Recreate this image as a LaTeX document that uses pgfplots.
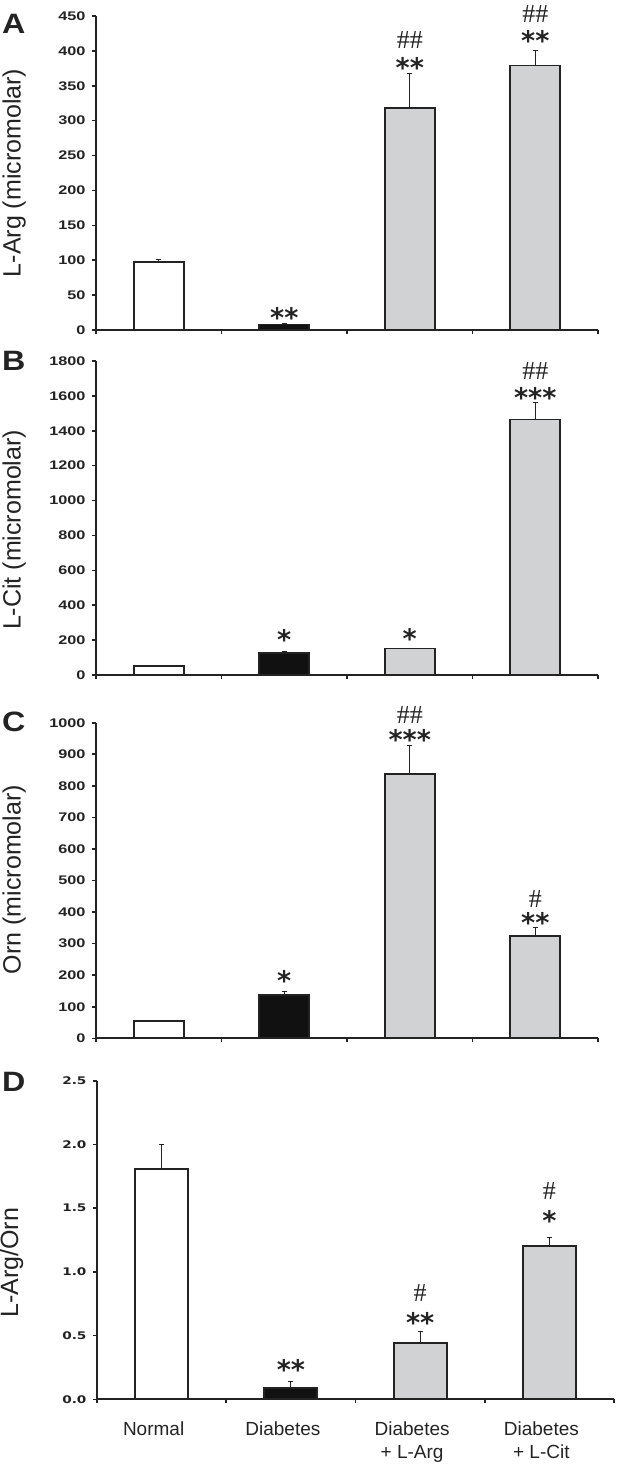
\documentclass[border=0pt]{standalone}
\usepackage{fontspec}
\setmainfont{Liberation Sans}
\newfontfamily\tickfont{Liberation Sans Bold}[FakeStretch=1.3]
\newfontfamily\dtickfont{DejaVu Sans Bold}[FakeStretch=1.3]
\newfontfamily\astfont{DejaVu Sans Bold}
\newfontfamily\hashfont{Liberation Serif}
\newfontfamily\letterfont{Liberation Sans Bold}[FakeStretch=1.15]
\usepackage{pgfplots}
\pgfplotsset{compat=1.18}
\definecolor{barg}{RGB}{208,210,212}
\definecolor{ink}{RGB}{35,35,35}
\definecolor{barblack}{RGB}{17,17,17}

\newcommand\stars[3]{\node[font=\astfont\fontsize{27bp}{30bp}\selectfont, text=ink, anchor=base, yshift=-15.8bp, inner sep=0pt] at (axis cs:#1,#2) {#3};}
\newcommand\hashes[3]{\node[font=\hashfont\fontsize{26bp}{28bp}\selectfont, text=ink, anchor=base, yshift=-8.8bp, inner sep=0pt] at (axis cs:#1,#2) {#3};}

\pgfplotsset{
  panel/.style={
    scale only axis, width=502bp, height=314bp,
    xmin=0.5, xmax=4.5, ymin=0, enlargelimits=false,
    axis x line*=bottom, axis y line*=left,
    axis line style={ink, line width=1.8bp},
    xtick={0.5,1.5,2.5,3.5,4.5}, xticklabels={},
    tick align=outside, major tick length=4bp,
    tick style={ink, line width=1.6bp},
    clip=false,
    /pgf/number format/assume math mode=true,
    /pgf/number format/1000 sep={},
    yticklabel style={font=\tickfont\fontsize{12.5bp}{14bp}\selectfont, text=ink, xshift=-3bp},
    ylabel style={font=\fontsize{25bp}{28bp}\selectfont, text=ink, anchor=center},
  },
  mybar/.style={
    ybar, bar shift=0pt, bar width=0.4, draw=ink, line width=1.8bp,
    error bars/y dir=plus, error bars/y explicit,
    error bars/error bar style={line width=0.9bp, ink},
    error bars/error mark options={rotate=90, ink, mark size=2.5bp, line width=0.9bp},
  },
}

\begin{document}
\begin{tikzpicture}
\path[use as bounding box] (0bp,0bp) rectangle (620bp,-1464bp);

% Panel A
\node[anchor=north west, inner sep=0pt, font=\letterfont\fontsize{28bp}{28bp}\selectfont, text=ink] at (2bp,-14bp) {A};
\begin{axis}[panel, at={(96bp,-330bp)}, anchor=south west,
  ymax=450, ytick={0,50,...,450},
  ylabel={L-Arg (micromolar)},
  ylabel style={at={(axis description cs:-0.163,0.5)}}]
\addplot[mybar, fill=white] coordinates {(1,97) +- (0,4)};
\addplot[mybar, fill=barblack] coordinates {(2,8) +- (0,2)};
\addplot[mybar, fill=barg] coordinates {(3,318) +- (0,50) (4,379) +- (0,22)};
\stars{2}{26}{**}
\stars{3}{385}{**}
\hashes{3}{416}{\#\#}
\stars{4}{423}{**}
\hashes{4}{454}{\#\#}
\end{axis}

% Panel B
\node[anchor=north west, inner sep=0pt, font=\letterfont\fontsize{28bp}{28bp}\selectfont, text=ink] at (2bp,-351bp) {B};
\begin{axis}[panel, at={(96bp,-675bp)}, anchor=south west,
  ymax=1800, ytick={0,200,...,1800},
  ylabel={L-Cit (micromolar)},
  ylabel style={at={(axis description cs:-0.163,0.462)}}]
\addplot[mybar, fill=white] coordinates {(1,50) +- (0,2)};
\addplot[mybar, fill=barblack] coordinates {(2,125) +- (0,8)};
\addplot[mybar, fill=barg] coordinates {(3,152) +- (0,3) (4,1465) +- (0,100)};
\stars{2}{235}{*}
\stars{3}{242}{*}
\stars{4}{1624}{***}
\hashes{4}{1744}{\#\#}
\end{axis}

% Panel C
\node[anchor=north west, inner sep=0pt, font=\letterfont\fontsize{28bp}{28bp}\selectfont, text=ink] at (2bp,-712bp) {C};
\begin{axis}[panel, at={(96bp,-1038.3bp)}, anchor=south west, height=315.6bp,
  ymax=1000, ytick={0,100,...,1000},
  ylabel={Orn (micromolar)},
  ylabel style={at={(axis description cs:-0.163,0.503)}}]
\addplot[mybar, fill=white] coordinates {(1,55) +- (0,2)};
\addplot[mybar, fill=barblack] coordinates {(2,137) +- (0,13)};
\addplot[mybar, fill=barg] coordinates {(3,838) +- (0,90) (4,325) +- (0,25)};
\stars{2}{200}{*}
\stars{3}{966}{***}
\hashes{3}{1024}{\#\#}
\stars{4}{385}{**}
\hashes{4}{441}{\#}
\end{axis}

% Panel D
\node[anchor=north west, inner sep=0pt, font=\letterfont\fontsize{28bp}{28bp}\selectfont, text=ink] at (2bp,-1072bp) {D};
\begin{axis}[panel, at={(97bp,-1399.3bp)}, anchor=south west, width=517bp, height=318.6bp,
  ymax=2.5, ytick={0,0.5,...,2.5},
  yticklabel style={font=\dtickfont\fontsize{10.5bp}{12bp}\selectfont, /pgf/number format/.cd, fixed, fixed zerofill, precision=1},
  ylabel={L-Arg/Orn},
  ylabel style={at={(axis description cs:-0.165,0.428)}},
  extra x ticks={1,2,3,4},
  extra x tick labels={Normal, Diabetes, {Diabetes\\+ L-Arg}, {Diabetes\\+ L-Cit}},
  extra x tick style={major tick length=0pt, tick style={draw=none},
    xticklabel style={font=\fontsize{19bp}{22.5bp}\selectfont, text=ink, align=center, xshift=-8bp, yshift=-19bp}}]
\addplot[mybar, bar width=0.41, fill=white] coordinates {(1,1.81) +- (0,0.19)};
\addplot[mybar, bar width=0.41, fill=barblack] coordinates {(2,0.09) +- (0,0.05)};
\addplot[mybar, bar width=0.41, fill=barg] coordinates {(3,0.44) +- (0,0.09) (4,1.20) +- (0,0.07)};
\stars{2}{0.277}{**}
\stars{3}{0.648}{**}
\hashes{3}{0.840}{\#}
\stars{4}{1.446}{*}
\hashes{4}{1.634}{\#}
\end{axis}
\end{tikzpicture}
\end{document}
